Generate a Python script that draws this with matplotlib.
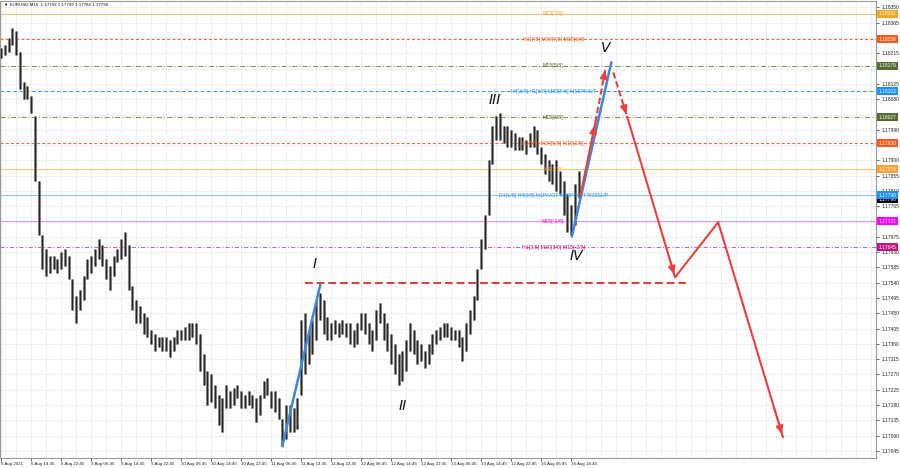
import numpy as np
import matplotlib
matplotlib.use('Agg')
import matplotlib.pyplot as plt
import matplotlib.transforms as mtransforms

plt.rcParams['font.family'] = ['Liberation Sans', 'DejaVu Sans']

# EURUSD M15, one entry per hour (4 bars): high / low
highs = [1.1823, 1.1824, 1.1826, 1.1829, 1.1828, 1.1822, 1.1813, 1.1812, 1.1809, 1.1803,
         1.1784, 1.1768, 1.1764, 1.1762, 1.1762, 1.1761, 1.1763, 1.1764, 1.1762, 1.1755,
         1.1750, 1.1752, 1.1756, 1.1761, 1.1762, 1.1764, 1.1767, 1.1765, 1.1761, 1.1759,
         1.1762, 1.1764, 1.1767, 1.1769, 1.1765, 1.1753, 1.1749, 1.1747, 1.1745, 1.1744,
         1.1740, 1.1739, 1.1738, 1.1738, 1.1738, 1.1737, 1.1738, 1.1740, 1.1740, 1.1741,
         1.1742, 1.1742, 1.1742, 1.1739, 1.1733, 1.1728, 1.1727, 1.1724, 1.1721, 1.1720,
         1.1724, 1.1722, 1.1723, 1.1724, 1.1722, 1.1721, 1.1722, 1.1721, 1.1720, 1.1721,
         1.1725, 1.1726, 1.1722, 1.1722, 1.1720, 1.1714, 1.1718, 1.1718, 1.1717, 1.1720,
         1.1743, 1.1745, 1.1740, 1.1743, 1.1749, 1.1751, 1.1749, 1.1744, 1.1742, 1.1743,
         1.1742, 1.1743, 1.1742, 1.1742, 1.1740, 1.1742, 1.1745, 1.1745, 1.1742, 1.1740,
         1.1746, 1.1748, 1.1745, 1.1742, 1.1739, 1.1736, 1.1733, 1.1734, 1.1737, 1.1742,
         1.1740, 1.1737, 1.1736, 1.1734, 1.1736, 1.1739, 1.1740, 1.1741, 1.1742, 1.1742,
         1.1741, 1.1740, 1.1740, 1.1738, 1.1742, 1.1746, 1.1750, 1.1758, 1.1767, 1.1774,
         1.1790, 1.1800, 1.1803, 1.1804, 1.1800, 1.1800, 1.1799, 1.1798, 1.1797, 1.1797,
         1.1796, 1.1798, 1.1800, 1.1799, 1.1794, 1.1792, 1.1790, 1.1789, 1.1790, 1.1787,
         1.1784, 1.1780, 1.1777, 1.1783, 1.1787]
lows = [1.1820, 1.1821, 1.1822, 1.1824, 1.1821, 1.1811, 1.1808, 1.1808, 1.1804, 1.1784,
        1.1768, 1.1758, 1.1756, 1.1757, 1.1758, 1.1757, 1.1758, 1.1759, 1.1755, 1.1746,
        1.1742, 1.1746, 1.1749, 1.1755, 1.1757, 1.1759, 1.1761, 1.1759, 1.1755, 1.1752,
        1.1756, 1.1760, 1.1761, 1.1762, 1.1752, 1.1746, 1.1742, 1.1742, 1.1739, 1.1738,
        1.1736, 1.1734, 1.1735, 1.1734, 1.1734, 1.1732, 1.1734, 1.1736, 1.1737, 1.1737,
        1.1737, 1.1738, 1.1736, 1.1728, 1.1724, 1.1718, 1.1719, 1.1717, 1.1712, 1.1710,
        1.1717, 1.1717, 1.1718, 1.1720, 1.1717, 1.1717, 1.1718, 1.1717, 1.1713, 1.1715,
        1.1720, 1.1721, 1.1717, 1.1716, 1.1714, 1.1706, 1.1708, 1.1710, 1.1710, 1.1711,
        1.1721, 1.1727, 1.1730, 1.1733, 1.1737, 1.1743, 1.1739, 1.1737, 1.1737, 1.1739,
        1.1738, 1.1739, 1.1738, 1.1736, 1.1735, 1.1736, 1.1740, 1.1739, 1.1736, 1.1734,
        1.1737, 1.1742, 1.1737, 1.1734, 1.1730, 1.1727, 1.1724, 1.1725, 1.1728, 1.1734,
        1.1733, 1.1730, 1.1731, 1.1729, 1.1730, 1.1733, 1.1736, 1.1737, 1.1738, 1.1738,
        1.1737, 1.1737, 1.1735, 1.1731, 1.1734, 1.1739, 1.1743, 1.1749, 1.1758, 1.1764,
        1.1774, 1.1789, 1.1796, 1.1796, 1.1795, 1.1794, 1.1794, 1.1793, 1.1793, 1.1793,
        1.1792, 1.1794, 1.1794, 1.1792, 1.1789, 1.1786, 1.1784, 1.1783, 1.1781, 1.1780,
        1.1774, 1.1769, 1.1768, 1.1771, 1.1779]

# murrey math levels drawn on the chart
level_prices = [1.18332, 1.18256, 1.18179, 1.18103, 1.18027, 1.17950, 1.17874, 1.17798, 1.17721, 1.17645]
level_names = ['M15[7/8]', 'H1[7/8] M30[7/8] M15[6/8]', 'M15[5/8]',
               'H4[3/8] H1[6/8] M30[6/8] M15PIVOT', 'M15[3/8]', 'H1[5/8] M30[5/8] M15[2/8]',
               'H4[1/8]', 'D1[1/8] H4[2/8] H1PIVOT M30PIVOT M15SUP', 'M15[-1/8]',
               'H1[3/8] M30[3/8] M15[-2/8]']
level_colors = ['#f5a623', '#ff5a1f', '#556b2f', '#1e90ff', '#556b2f', '#ff5a1f',
                '#ffa030', '#1e90ff', '#ff00ff', '#c71585']
line_colors = ['#f5c060', '#ff6a3a', '#8c8c60', '#4ea0f0', '#8c8c60', '#ff6a3a',
               '#f8c47e', '#8cc2f0', '#f090f0', '#cc66aa']
line_styles = ['-', (0, (3, 2)), (0, (5, 2, 1, 2)), (0, (4, 2)), (0, (5, 2, 1, 2)),
               (0, (3, 2)), '-', '-', '-', (0, (4, 2, 1, 2))]

last_price = 1.17790
title = '\u25bc EURUSD,M15  1.17793 1.17799 1.17784 1.17790'

time_labels = ['6 Aug 2021', '6 Aug 14:45', '6 Aug 22:45', '9 Aug 06:45', '9 Aug 14:45',
               '9 Aug 22:45', '10 Aug 06:45', '10 Aug 14:45', '10 Aug 22:45', '11 Aug 06:45',
               '11 Aug 14:45', '11 Aug 22:45', '12 Aug 06:45', '12 Aug 14:45', '12 Aug 22:45',
               '13 Aug 06:45', '13 Aug 14:45', '13 Aug 22:45', '16 Aug 06:45', '16 Aug 14:45']

# wave marks (bar index, price)
wave1_bars = [300, 341]
wave1_prices = [1.17059, 1.17539]
wave5_bars = [609, 651]
wave5_prices = [1.17677, 1.18188]
break_level = 1.17538
break_bars = [324, 735]
fc_bars = [618, 634, 645, 653, 668, 719, 765, 834]
fc_prices = [1.17797, 1.18012, 1.18174, 1.18159, 1.18028, 1.17556, 1.17718, 1.17086]
wave_names = ['I', 'II', 'III', 'IV', 'V']
wave_bars = [335, 429, 527, 614, 645]
wave_prices = [1.17594, 1.17177, 1.18077, 1.17618, 1.18232]

fig = plt.figure(figsize=(9, 4.68), dpi=100)
ax = fig.add_axes([0, 10 / 468, 876 / 900, 457.5 / 468])
ax.set_xlim(-1.07, 933.3)
ax.set_ylim(1.170241, 1.183706)

# grid
yt = np.round(np.arange(1.17045, 1.18351, 0.00045), 5)
for v in yt:
    ax.axhline(v, color='#ededed', lw=0.6, zorder=0)
for b in np.arange(0, 934, 16):
    ax.axvline(b, color='#ededed', lw=0.6, zorder=0)

# levels
for p, c, ls in zip(level_prices, line_colors, line_styles):
    ax.axhline(p, color=c, lw=0.75, linestyle=ls, zorder=1)

# price bars
bars = np.arange(len(highs)) * 4
ax.vlines(bars, lows, highs, color='#9a9a9a', lw=2.2, zorder=2)
ax.vlines(bars, lows, highs, color='#262626', lw=1.0, zorder=3)

# level names
for p, name, c in zip(level_prices, level_names, level_colors):
    ax.text(589, p, name, color=c, fontsize=3.8, ha='center', va='center', zorder=4)

# wave lines
ax.plot(wave1_bars, wave1_prices, color='#3f87d9', lw=1.8, zorder=5)
ax.plot(wave5_bars, wave5_prices, color='#3f87d9', lw=1.8, zorder=5)
ax.plot(break_bars, [break_level, break_level], color='#e53935', lw=1.4,
        linestyle=(0, (4, 2)), zorder=5)

red = '#ea4040'
ax.plot(fc_bars[0:2], fc_prices[0:2], color=red, lw=1.5, zorder=5)
ax.plot(fc_bars[1:3], fc_prices[1:3], color=red, lw=1.5, linestyle=(0, (3, 1.5)), zorder=5)
ax.plot(fc_bars[3:5], fc_prices[3:5], color=red, lw=1.5, linestyle=(0, (3, 1.5)), zorder=5)
ax.plot(fc_bars[4:8], fc_prices[4:8], color=red, lw=1.5, zorder=5)
for i in [1, 2, 4, 5, 7]:
    ax.annotate('', xy=(fc_bars[i], fc_prices[i]),
                xytext=(fc_bars[i] - (fc_bars[i] - fc_bars[i - 1]) * 0.15,
                        fc_prices[i] - (fc_prices[i] - fc_prices[i - 1]) * 0.15),
                arrowprops=dict(arrowstyle='-|>,head_length=0.5,head_width=0.22',
                                color=red, lw=1.2), zorder=6)

for name, b, p in zip(wave_names, wave_bars, wave_prices):
    ax.text(b, p, name, fontsize=10, style='italic', ha='center', va='center',
            color='#111111', family='DejaVu Sans', zorder=6)

# axes
ax.yaxis.tick_right()
ax.set_yticks(yt)
# labels sitting right under a price box are hidden by it
ylabels = ['' if min(abs(v - p) for p in level_prices) < 0.0001 else '%.5f' % v for v in yt]
ax.set_yticklabels(ylabels, fontsize=3.5)
ax.tick_params(axis='y', length=2, pad=2, width=0.5, colors='#222222')
xt = np.arange(len(time_labels)) * 32
ax.set_xticks(xt)
ax.set_xticklabels(time_labels, fontsize=3.2, ha='left')
ax.tick_params(axis='x', length=2, pad=1, width=0.5, colors='#222222')
for s in ax.spines.values():
    s.set_color('#9a9a9a')
    s.set_linewidth(0.8)

# price boxes on the right scale
trans = mtransforms.blended_transform_factory(ax.transAxes, ax.transData)
ax.text(1.003, last_price - 0.00004, '%.5f' % last_price, transform=trans, fontsize=3.5,
        color='white', va='center', ha='left', clip_on=False, zorder=7,
        bbox=dict(boxstyle='square,pad=0.3', fc='black', ec='none'))
for p, c in zip(level_prices, level_colors):
    ax.text(1.003, p, '%.5f' % p, transform=trans, fontsize=3.5, color='white',
            va='center', ha='left', clip_on=False, zorder=8,
            bbox=dict(boxstyle='square,pad=0.3', fc=c, ec='none'))

ax.text(0.004, 0.995, title, transform=ax.transAxes, fontsize=3.2, va='top', ha='left',
        color='#111111', zorder=8)

fig.savefig('out.png', dpi=100)
